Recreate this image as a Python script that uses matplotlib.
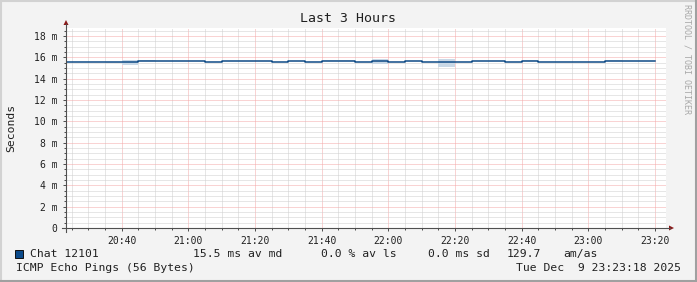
#!/usr/bin/env python3
# -*- coding: utf-8 -*-

import matplotlib
matplotlib.use('Agg')
import matplotlib.pyplot as plt
from matplotlib.lines import Line2D
from matplotlib.patches import Polygon, Rectangle
from matplotlib.ticker import MultipleLocator, FixedLocator

# --------------------------------------------------------------------------
# data (minutes are counted from 20:00)
slot_start = ['20:20', '20:25', '20:30', '20:35', '20:40', '20:45', '20:50', '20:55',
              '21:00', '21:05', '21:10', '21:15', '21:20', '21:25', '21:30', '21:35',
              '21:40', '21:45', '21:50', '21:55', '22:00', '22:05', '22:10', '22:15',
              '22:20', '22:25', '22:30', '22:35', '22:40', '22:45', '22:50', '22:55',
              '23:00', '23:05', '23:10', '23:15']
median_ms = [15.55, 15.55, 15.55, 15.55, 15.55, 15.65, 15.65, 15.65,
             15.65, 15.55, 15.65, 15.65, 15.65, 15.55, 15.65, 15.55,
             15.65, 15.65, 15.55, 15.65, 15.55, 15.65, 15.55, 15.52,
             15.52, 15.65, 15.65, 15.55, 15.65, 15.55, 15.55, 15.55,
             15.55, 15.65, 15.65, 15.65]
data_end = '23:20'

# smoke (ping spread) for the few slots where it shows
smoke_start = ['20:35', '20:40', '20:45', '21:40', '21:45', '21:55', '22:15', '22:40', '23:05']
smoke_lo = [15.45, 15.25, 15.62, 15.65, 15.65, 15.35, 15.10, 15.65, 15.65]
smoke_hi = [15.55, 15.75, 15.72, 15.72, 15.72, 15.88, 15.88, 15.75, 15.72]
smoke_col = ['#e4eaf0', '#c9d8e6', '#d3dfea', '#e4eaf0', '#e4eaf0',
             '#c9d8e6', '#c9d8e6', '#e4eaf0', '#e4eaf0']

t_start = '20:23:18'
t_end = '23:23:18'
xtick_labels = ['20:40', '21:00', '21:20', '21:40', '22:00', '22:20', '22:40', '23:00', '23:20']
ytick_vals = [0, 2, 4, 6, 8, 10, 12, 14, 16, 18]

legend_name = 'Chat 12101'
legend_stats = ['15.5 ms av md', '0.0 % av ls', '0.0 ms sd', '129.7', 'am/as']
probe_text = 'ICMP Echo Pings (56 Bytes)'
date_text = 'Tue Dec  9 23:23:18 2025'


def minutes(s):
    parts = [int(p) for p in s.split(':')]
    m = (parts[0] - 20) * 60 + parts[1]
    if len(parts) > 2:
        m += parts[2] / 60.0
    return m


# --------------------------------------------------------------------------
W, H = 697, 282
FONT = 'DejaVu Sans Mono'
plt.rcParams['font.family'] = FONT

fig = plt.figure(figsize=(W / 100, H / 100), dpi=100, facecolor='#f3f3f3')


def px(x, y):
    return x / W, 1 - y / H


# plot area 600x200 px
ax = fig.add_axes([66 / W, 1 - 228 / H, 600 / W, 200 / H])
ax.set_facecolor('white')
for s in ax.spines.values():
    s.set_visible(False)

ax.set_xlim(minutes(t_start), minutes(t_end))
ax.set_ylim(0, 18.75)

# grid
ax.xaxis.set_minor_locator(MultipleLocator(5))
ax.xaxis.set_major_locator(FixedLocator([minutes(t) for t in xtick_labels]))
ax.set_xticklabels(xtick_labels)
ax.yaxis.set_minor_locator(MultipleLocator(0.5))
ax.yaxis.set_major_locator(FixedLocator(ytick_vals))
ax.set_yticklabels(['0' if v == 0 else '%d m' % v for v in ytick_vals])

ax.grid(which='minor', color='#cfcfcf', linestyle=(0, (1, 1)), linewidth=0.72, zorder=0)
ax.grid(which='major', color='#f4a8a8', linestyle=(0, (1, 1)), linewidth=0.72, zorder=0.5)
ax.set_axisbelow(True)

ax.tick_params(which='both', direction='out', color='#505050', width=0.72,
               labelsize=7, labelcolor='#202020')
ax.tick_params(which='major', length=2.5)
ax.tick_params(which='minor', length=1.5)
ax.tick_params(axis='y', pad=3.5)
ax.tick_params(axis='x', pad=3.0)

# smoke
xs = [minutes(t) for t in smoke_start]
ax.bar(xs, [h - l for h, l in zip(smoke_hi, smoke_lo)], bottom=smoke_lo, width=5,
       align='edge', color=smoke_col, linewidth=0, zorder=2)

# median line
xm = [minutes(t) for t in slot_start] + [minutes(data_end)]
ym = median_ms + [median_ms[-1]]
ax.step(xm, ym, where='post', color='#0e4a86', linewidth=1.1, zorder=3)

# axis lines with arrows
fig.add_artist(Line2D([px(66, 0)[0]] * 2, [px(0, 232)[1], px(0, 24)[1]],
                      color='#505050', linewidth=0.8))
fig.add_artist(Line2D([px(62, 0)[0], px(670, 0)[0]], [px(0, 228)[1]] * 2,
                      color='#505050', linewidth=0.8))
fig.add_artist(Polygon([px(63.5, 25), px(68.5, 25), px(66, 20)], closed=True,
                       color='#8b1a1a', linewidth=0))
fig.add_artist(Polygon([px(669, 225.5), px(669, 230.5), px(674, 228)], closed=True,
                       color='#8b1a1a', linewidth=0))

# texts
fig.text(*px(348, 19), 'Last 3 Hours', ha='center', va='center', fontsize=9.5,
         color='#202020')
fig.text(*px(11, 128), 'Seconds', rotation=90, ha='center', va='center',
         fontsize=8.2, color='#202020')
fig.text(*px(687, 4), 'RRDTOOL / TOBI OETIKER', rotation=270, ha='center', va='top',
         fontsize=6, color='#a8a8a8')

# legend
fig.add_artist(Rectangle(px(15, 258), 8 / W, 8 / H, facecolor='#0b4a8a',
                         edgecolor='#101010', linewidth=0.7))
fig.text(*px(30, 254), legend_name, ha='left', va='center', fontsize=8.2, color='#202020')
for x, s in zip([193, 321, 428, 507, 563], legend_stats):
    fig.text(*px(x, 254), s, ha='left', va='center', fontsize=8.2, color='#202020')
fig.text(*px(16, 268), probe_text, ha='left', va='center', fontsize=8.2, color='#202020')
fig.text(*px(681, 268), date_text, ha='right', va='center', fontsize=8.2, color='#202020')

# 3d frame
fig.add_artist(Line2D([0, 1], [1 - 1 / H] * 2, color='#d2d2d2', linewidth=1.5))
fig.add_artist(Line2D([1 / W] * 2, [0, 1], color='#d2d2d2', linewidth=1.5))
fig.add_artist(Line2D([0, 1], [1 / H] * 2, color='#a0a0a0', linewidth=1.5))
fig.add_artist(Line2D([1 - 1 / W] * 2, [0, 1], color='#a0a0a0', linewidth=1.5))

fig.savefig('out.png', dpi=100, facecolor=fig.get_facecolor())
